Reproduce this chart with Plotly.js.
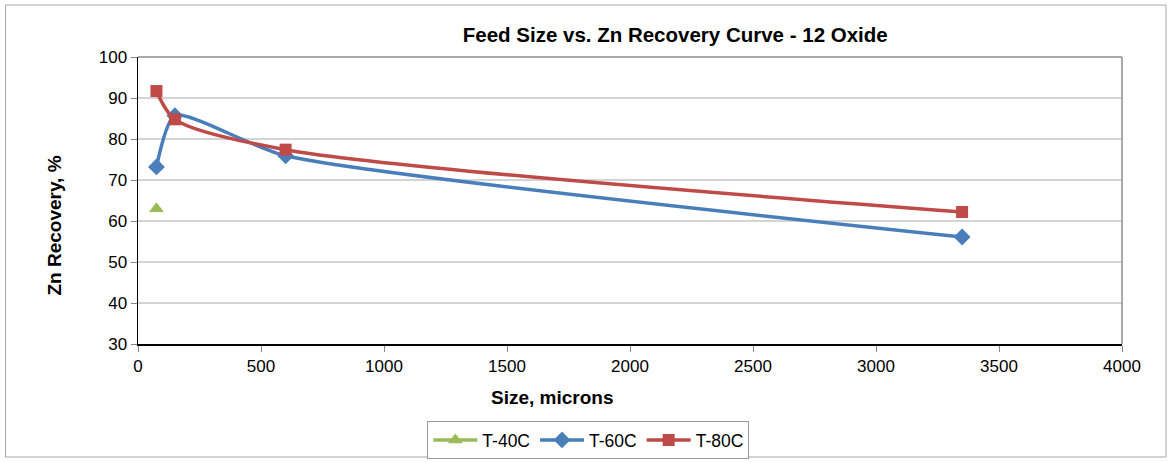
<!DOCTYPE html>
<html>
<head>
<meta charset="utf-8">
<script src="https://cdn.plot.ly/plotly-3.0.1.min.js"></script>
<style>
  html, body { margin: 0; padding: 0; background: #fff; }
  #chart { width: 1172px; height: 462px; }
</style>
</head>
<body>
<div id="chart"></div>
<script>
// Feed size (microns) and Zn recovery (%) per leach temperature
const sizeT40 = [75];
const recT40 = [63.0];

const sizeT60 = [75, 150, 600, 3350];
const recT60 = [73.2, 85.7, 75.9, 56.1];

const sizeT80 = [75, 150, 600, 3350];
const recT80 = [91.7, 84.8, 77.4, 62.2];

const seriesNames = ["T-40C", "T-60C", "T-80C"];
const seriesColors = ["#9bbb59", "#4a7ebb", "#be4b48"];

const W = 1172, H = 462;
const M = { l: 137.5, r: 50, t: 57, b: 118, autoexpand: false };
const pw = W - M.l - M.r, ph = H - M.t - M.b;
// pixel -> paper helpers for frame decorations
const px = x => (x - M.l) / pw;
const py = y => (H - M.b - y) / ph;

const font = "Liberation Sans, Arial, sans-serif";

const traces = [
  {
    x: sizeT40, y: recT40, name: seriesNames[0], type: "scatter",
    mode: "lines+markers",
    line: { color: seriesColors[0], width: 3.5 },
    marker: { symbol: "triangle-up", size: 13, color: seriesColors[0] }
  },
  {
    x: sizeT60, y: recT60, name: seriesNames[1], type: "scatter",
    mode: "lines+markers",
    line: { color: seriesColors[1], width: 3.5, shape: "spline", smoothing: 0.6 },
    marker: { symbol: "diamond", size: 13, color: seriesColors[1] }
  },
  {
    x: sizeT80, y: recT80, name: seriesNames[2], type: "scatter",
    mode: "lines+markers",
    line: { color: seriesColors[2], width: 3.5, shape: "spline", smoothing: 0.8 },
    marker: { symbol: "square", size: 12, color: seriesColors[2] }
  }
];

const layout = {
  width: W, height: H,
  margin: M,
  paper_bgcolor: "#fff",
  plot_bgcolor: "#fff",
  font: { family: font, size: 17, color: "#000" },
  showlegend: true,
  title: {
    text: "<b>Feed Size vs. Zn Recovery Curve - 12 Oxide</b>",
    font: { family: font, size: 20.5, color: "#000" },
    xref: "paper", x: px(675), xanchor: "center",
    yref: "container", y: 1 - 35 / H, yanchor: "middle"
  },
  xaxis: {
    range: [0, 4000], dtick: 500, tick0: 0,
    showgrid: false, zeroline: false,
    showline: true, linecolor: "#000", linewidth: 1.5,
    ticks: "outside", ticklen: 6, tickcolor: "#888", tickwidth: 1,
    tickfont: { family: font, size: 17, color: "#000" }
  },
  yaxis: {
    range: [30, 100], dtick: 10, tick0: 30,
    showgrid: true, gridcolor: "#d4d4d4", gridwidth: 1.5,
    zeroline: false,
    showline: true, linecolor: "#000", linewidth: 1.5,
    ticks: "outside", ticklen: 6, tickcolor: "#888", tickwidth: 1,
    tickfont: { family: font, size: 17, color: "#000" }
  },
  legend: {
    orientation: "h",
    x: px(427), xanchor: "left",
    y: py(421), yanchor: "top",
    bordercolor: "#9a9a9a", borderwidth: 1,
    font: { family: font, size: 17.5, color: "#000" },
    itemwidth: 44, tracegroupgap: 0
  },
  annotations: [
    {
      text: "<b>Size, microns</b>", showarrow: false,
      xref: "paper", yref: "paper", x: px(552), y: py(397),
      xanchor: "center", yanchor: "middle",
      font: { family: font, size: 19, color: "#000" }
    },
    {
      text: "<b>Zn Recovery, %</b>", showarrow: false, textangle: -90,
      xref: "paper", yref: "paper", x: px(53), y: py(226),
      xanchor: "center", yanchor: "middle",
      font: { family: font, size: 19, color: "#000" }
    }
  ],
  shapes: [
    // plot area frame: top and right edges
    { type: "line", xref: "paper", yref: "paper", x0: 0, x1: 1, y0: 1, y1: 1,
      line: { color: "#8c8c8c", width: 1.5 } },
    { type: "line", xref: "paper", yref: "paper", x0: 1, x1: 1, y0: 0, y1: 1,
      line: { color: "#8c8c8c", width: 1.5 } },
    // outer chart border
    { type: "rect", xref: "paper", yref: "paper",
      x0: px(5), x1: px(1166), y0: py(457), y1: py(5),
      line: { color: "#a6a6a6", width: 1 } }
  ]
};

Plotly.newPlot("chart", traces, layout, { displayModeBar: false, staticPlot: true });
</script>
</body>
</html>
